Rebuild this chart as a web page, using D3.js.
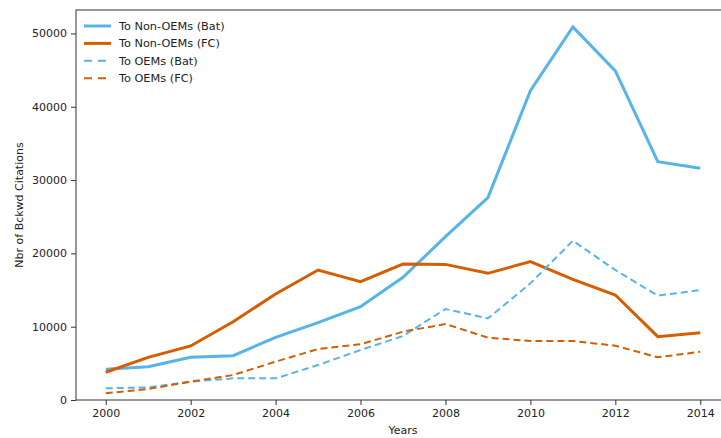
<!DOCTYPE html>
<html>
<head>
<meta charset="utf-8">
<script src="https://cdn.jsdelivr.net/npm/d3@7"></script>
<style>
  body { margin: 0; background: #fff; }
  text { font-family: "DejaVu Sans", sans-serif; fill: #222; }
  .axis path, .axis line { stroke: #333; }
</style>
</head>
<body>
<div id="chart"></div>
<script>
// data
var years = [2000, 2001, 2002, 2003, 2004, 2005, 2006, 2007, 2008, 2009, 2010, 2011, 2012, 2013, 2014];
var nonOemBat = [4200, 4550, 5820, 6050, 8550, 10550, 12730, 16730, 22280, 27600, 42200, 50900, 44900, 32500, 31600];
var nonOemFC = [3780, 5820, 7370, 10680, 14460, 17730, 16140, 18550, 18500, 17280, 18870, 16460, 14320, 8640, 9180];
var oemBat = [1590, 1730, 2500, 2950, 2950, 4770, 6820, 8730, 12410, 11140, 15910, 21730, 17730, 14230, 15000];
var oemFC = [910, 1500, 2500, 3410, 5230, 6960, 7600, 9320, 10370, 8500, 8050, 8050, 7410, 5820, 6590];
var seriesNames = ["To Non-OEMs (Bat)", "To Non-OEMs (FC)", "To OEMs (Bat)", "To OEMs (FC)"];
var xTicks = [2000, 2002, 2004, 2006, 2008, 2010, 2012, 2014];
var yTicks = [0, 10000, 20000, 30000, 40000, 50000];

var width = 721;
var height = 438;
var margin = { top: 10, right: -9, bottom: 38, left: 76 };
var chartWidth = width - margin.left - margin.right;
var chartHeight = height - margin.top - margin.bottom;

var series = [
  { name: seriesNames[0], values: nonOemBat, color: "#56B4E9", width: 3, dash: null },
  { name: seriesNames[1], values: nonOemFC, color: "#D55E00", width: 3, dash: null },
  { name: seriesNames[2], values: oemBat, color: "#56B4E9", width: 2, dash: "7,4" },
  { name: seriesNames[3], values: oemFC, color: "#D55E00", width: 2, dash: "7,4" }
];

var svg = d3.select("#chart")
  .append("svg")
  .attr("width", width)
  .attr("height", height);

var chartGroup = svg.append("g")
  .attr("transform", `translate(${margin.left}, ${margin.top})`);

var xScale = d3.scaleLinear()
  .domain([1999.3, 2014.7])
  .range([0, chartWidth]);

var yScale = d3.scaleLinear()
  .domain([0, 53200])
  .range([chartHeight, 0]);

var xAxis = d3.axisBottom(xScale).tickValues(xTicks).tickFormat(d3.format("d")).tickSizeOuter(0).tickSize(5).tickPadding(4);
var yAxis = d3.axisLeft(yScale).tickValues(yTicks).tickFormat(d3.format("d")).tickSizeOuter(0).tickSize(5).tickPadding(4);

var line = d3.line()
  .x((d, i) => xScale(years[i]))
  .y(d => yScale(d));

series.forEach(function(s) {
  chartGroup.append("path")
    .datum(s.values)
    .attr("fill", "none")
    .attr("stroke", s.color)
    .attr("stroke-width", s.width)
    .attr("stroke-dasharray", s.dash)
    .attr("d", line);
});

// frame
chartGroup.append("rect")
  .attr("width", chartWidth)
  .attr("height", chartHeight)
  .attr("fill", "none")
  .attr("stroke", "#333")
  .attr("stroke-width", 1);

chartGroup.append("g")
  .classed("axis", true)
  .attr("transform", `translate(0, ${chartHeight})`)
  .call(xAxis)
  .selectAll("text").style("font-size", "11px");

chartGroup.append("g")
  .classed("axis", true)
  .call(yAxis)
  .selectAll("text").style("font-size", "11px");

chartGroup.selectAll(".axis .domain").remove();

chartGroup.append("text")
  .attr("x", 403 - margin.left)
  .attr("y", chartHeight + 34)
  .attr("text-anchor", "middle")
  .style("font-size", "11px")
  .text("Years");

chartGroup.append("text")
  .attr("transform", "rotate(-90)")
  .attr("x", -chartHeight / 2)
  .attr("y", -53)
  .attr("text-anchor", "middle")
  .style("font-size", "11px")
  .text("Nbr of Bckwd Citations");

// legend
var legend = chartGroup.append("g")
  .attr("transform", "translate(8, 16)");

series.forEach(function(s, i) {
  var g = legend.append("g").attr("transform", `translate(0, ${i * 17.4})`);
  g.append("line")
    .attr("x1", 0).attr("x2", 27)
    .attr("stroke", s.color)
    .attr("stroke-width", s.width)
    .attr("stroke-dasharray", s.dash ? "8,6" : null);
  g.append("text")
    .attr("x", 35)
    .attr("y", 4)
    .style("font-size", "11.3px")
    .text(s.name);
});
</script>
</body>
</html>
